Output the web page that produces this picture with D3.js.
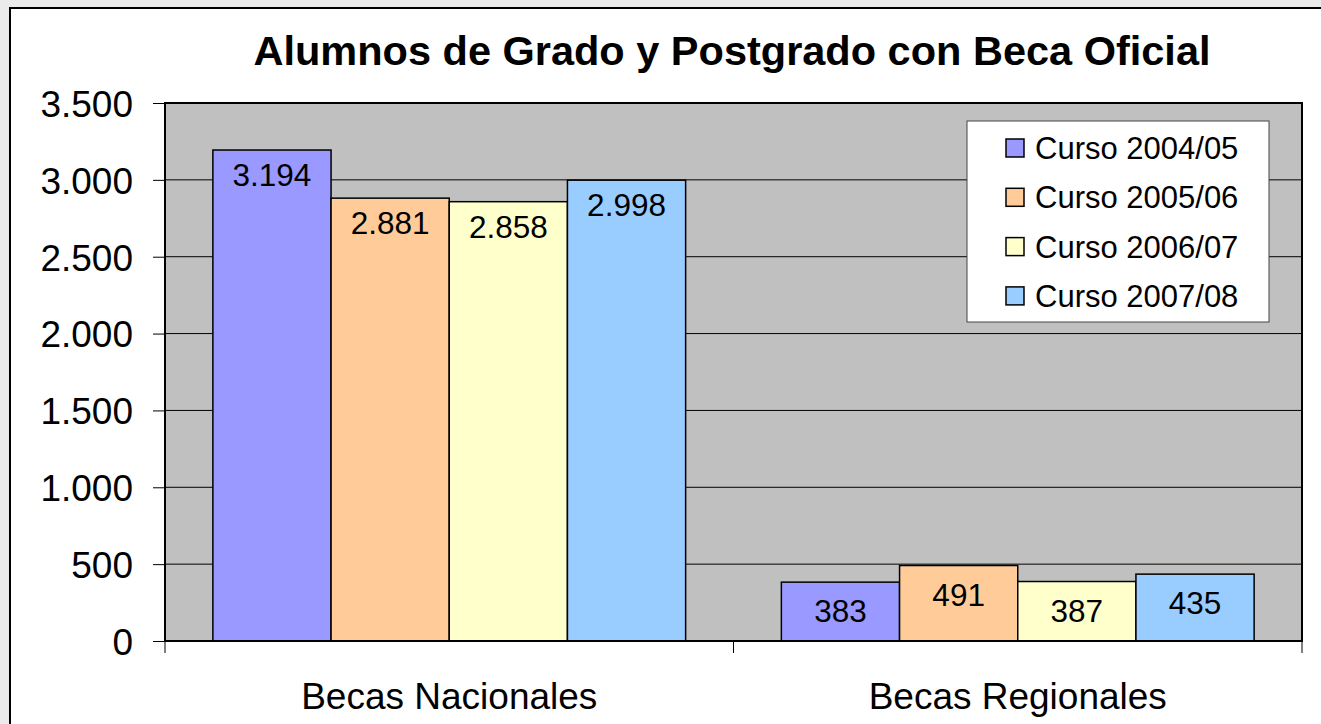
<!DOCTYPE html>
<html>
<head>
<meta charset="utf-8">
<script src="https://cdn.jsdelivr.net/npm/d3@7"></script>
<style>
  html, body { margin: 0; padding: 0; background: #ebebeb; }
  svg { display: block; font-family: Arial, "Liberation Sans", sans-serif; }
</style>
</head>
<body>
<svg id="chart" width="1321" height="724"></svg>
<script>
var categories = ["Becas Nacionales", "Becas Regionales"];
var seriesNames = ["Curso 2004/05", "Curso 2005/06", "Curso 2006/07", "Curso 2007/08"];
var curso0405 = [3194, 383];
var curso0506 = [2881, 491];
var curso0607 = [2858, 387];
var curso0708 = [2998, 435];
var yTicks = [0, 500, 1000, 1500, 2000, 2500, 3000, 3500];
var colors = ["#9999ff", "#ffcc99", "#ffffcc", "#99ccff"];

var seriesValues = [curso0405, curso0506, curso0607, curso0708];
var fmt = function (v) { return d3.format(",")(v).replace(/,/g, "."); };

var svg = d3.select("#chart");
var plotLeft = 165, plotRight = 1302, plotTop = 103, plotBottom = 641;

// white chart frame
svg.append("rect")
  .attr("x", 10).attr("y", 8)
  .attr("width", 1330).attr("height", 740)
  .attr("fill", "#fff")
  .attr("stroke", "#000")
  .attr("stroke-width", 2);

svg.append("text")
  .attr("x", 732).attr("y", 65)
  .attr("text-anchor", "middle")
  .style("font-size", "41.5px")
  .style("font-weight", "bold")
  .text("Alumnos de Grado y Postgrado con Beca Oficial");

var y = d3.scaleLinear().domain([0, 3500]).range([plotBottom, plotTop]);
var x0 = d3.scaleBand().domain(categories).range([plotLeft, plotRight]).paddingInner(0).paddingOuter(0);
var x1 = d3.scaleBand().domain(seriesNames).range([0, x0.bandwidth()]).paddingOuter(0.405);

svg.append("rect")
  .attr("x", plotLeft).attr("y", plotTop)
  .attr("width", plotRight - plotLeft).attr("height", plotBottom - plotTop)
  .attr("fill", "#c0c0c0");

// gridlines
svg.append("g")
  .selectAll("line")
  .data(yTicks.slice(1))
  .enter()
  .append("line")
  .attr("x1", plotLeft).attr("x2", plotRight)
  .attr("y1", function (d) { return y(d); })
  .attr("y2", function (d) { return y(d); })
  .attr("stroke", "#000")
  .attr("stroke-width", 1);

// y axis
var yAxis = svg.append("g")
  .attr("transform", "translate(" + plotLeft + ",0)")
  .call(d3.axisLeft(y).tickValues(yTicks).tickSize(12).tickPadding(20).tickFormat(fmt));
yAxis.select(".domain").remove();
yAxis.selectAll(".tick line").attr("stroke", "#000");
yAxis.selectAll(".tick text")
  .attr("fill", "#000")
  .style("font-size", "37px")
  .attr("dy", "0.36em");

// x axis
var xAxis = svg.append("g")
  .attr("transform", "translate(0," + plotBottom + ")")
  .call(d3.axisBottom(x0).tickSize(0).tickPadding(42));
xAxis.select(".domain").remove();
xAxis.selectAll(".tick text")
  .attr("fill", "#000")
  .style("font-size", "37px");
svg.append("g")
  .selectAll("line")
  .data([plotLeft, plotLeft + x0.bandwidth(), plotRight])
  .enter()
  .append("line")
  .attr("x1", function (d) { return d; })
  .attr("x2", function (d) { return d; })
  .attr("y1", plotBottom).attr("y2", plotBottom + 12)
  .attr("stroke", "#000");

// bars
var groups = svg.append("g")
  .selectAll("g")
  .data(categories)
  .enter()
  .append("g")
  .attr("transform", function (d) { return "translate(" + x0(d) + ",0)"; });

var cells = function (d, ci) {
  return seriesNames.map(function (s, si) { return { s: s, si: si, v: seriesValues[si][ci] }; });
};

groups.selectAll("rect")
  .data(cells)
  .enter()
  .append("rect")
  .attr("x", function (d) { return x1(d.s); })
  .attr("y", function (d) { return y(d.v); })
  .attr("width", x1.bandwidth())
  .attr("height", function (d) { return plotBottom - y(d.v); })
  .attr("fill", function (d) { return colors[d.si]; })
  .attr("stroke", "#000")
  .attr("stroke-width", 1.5);

groups.selectAll("text")
  .data(cells)
  .enter()
  .append("text")
  .attr("x", function (d) { return x1(d.s) + x1.bandwidth() / 2; })
  .attr("y", function (d) { return y(d.v) + (d.v > 1000 ? 36 : 40); })
  .attr("text-anchor", "middle")
  .style("font-size", "31.5px")
  .text(function (d) { return fmt(d.v); });

// plot border
svg.append("rect")
  .attr("x", plotLeft).attr("y", plotTop)
  .attr("width", plotRight - plotLeft).attr("height", plotBottom - plotTop)
  .attr("fill", "none")
  .attr("stroke", "#000")
  .attr("stroke-width", 2);

// legend
var legend = svg.append("g").attr("transform", "translate(967,121)");
legend.append("rect")
  .attr("width", 302).attr("height", 201)
  .attr("fill", "#fff")
  .attr("stroke", "#444")
  .attr("stroke-width", 1);
var items = legend.selectAll("g.item")
  .data(seriesNames)
  .enter()
  .append("g")
  .attr("class", "item")
  .attr("transform", function (d, i) { return "translate(0," + (27 + i * 49.3) + ")"; });
items.append("rect")
  .attr("x", 39).attr("y", -9)
  .attr("width", 18).attr("height", 18)
  .attr("fill", function (d, i) { return colors[i]; })
  .attr("stroke", "#000")
  .attr("stroke-width", 1.5);
items.append("text")
  .attr("x", 68).attr("y", 0)
  .attr("dy", "0.36em")
  .style("font-size", "31px")
  .text(function (d) { return d; });
</script>
</body>
</html>
